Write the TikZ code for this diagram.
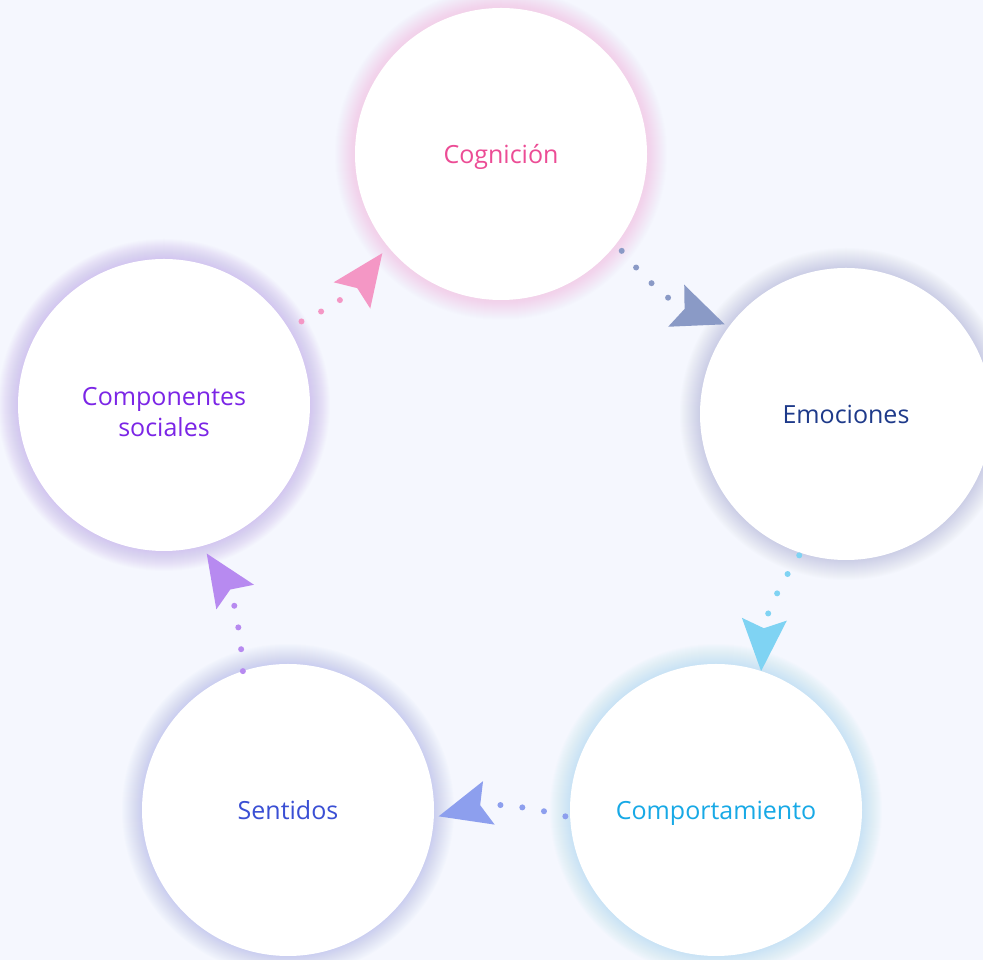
\documentclass[tikz,border=0pt]{standalone}
\usepackage{fontspec}
\setmainfont{Open Sans}
\usetikzlibrary{arrows.meta}

\definecolor{bg}{HTML}{F5F7FE}
\definecolor{cogtext}{HTML}{EC4C95}
\definecolor{cogline}{HTML}{F497C5}
\definecolor{coghalo}{HTML}{F2A2CC}
\definecolor{emotext}{HTML}{1E3A8A}
\definecolor{emoline}{HTML}{8A9AC6}
\definecolor{emohalo}{HTML}{8E9CC4}
\definecolor{comptext}{HTML}{17A9E6}
\definecolor{compline}{HTML}{7FD3F3}
\definecolor{comphalo}{HTML}{86D4F5}
\definecolor{senttext}{HTML}{3A4FD4}
\definecolor{sentline}{HTML}{8D9FEE}
\definecolor{senthalo}{HTML}{8B9AF0}
\definecolor{soctext}{HTML}{7B25E6}
\definecolor{socline}{HTML}{B78AF0}
\definecolor{sochalo}{HTML}{A77BF0}

% soft coloured glow round a bubble
\newcommand{\halo}[2]{%
  \foreach \k [evaluate=\k as \rr using 146+\k] in {1,...,20}
    \fill[#2, fill opacity=0.02] (#1) circle (\rr pt);}

\begin{document}
\begin{tikzpicture}[x=1pt,y=1pt,
  bubble/.style={circle,fill=white,minimum size=292pt,inner sep=0pt,outer sep=0pt,
    align=center,text depth=0pt,font=\fontsize{25}{31}\selectfont},
  flow/.style={line width=6pt,line cap=round,dash pattern=on 0pt off 22pt,
    -{Stealth[length=52pt,width=45pt,inset=9pt,line width=0pt]},bend right=15}]

  \fill[bg] (0,0) rectangle (983,960);
  \useasboundingbox (0,0) rectangle (983,960);

  \coordinate (pcog) at (501,806);
  \coordinate (pemo) at (846,546);
  \coordinate (pcomp) at (716,150);
  \coordinate (psent) at (288,150);
  \coordinate (psoc) at (164,555);

  \halo{pcog}{coghalo}
  \halo{pemo}{emohalo}
  \halo{pcomp}{comphalo}
  \halo{psent}{senthalo}
  \halo{psoc}{sochalo}

  \node[bubble,text=cogtext] (cog) at (pcog) {Cognición};
  \node[bubble,text=emotext] (emo) at (pemo) {Emociones};
  \node[bubble,text=comptext] (comp) at (pcomp) {Comportamiento};
  \node[bubble,text=senttext] (sent) at (psent) {Sentidos};
  \node[bubble,text=soctext,text height=63pt] (soc) at (psoc) {Componentes\\sociales};

  \draw[flow,cogline,shorten <=15pt,shorten >=9pt] (soc.32) to (cog.219);
  \draw[flow,emoline,shorten <=9pt,shorten >=5pt] (cog.-38) to (emo.143);
  \draw[flow,compline,shorten <=3pt,shorten >=0pt] (emo.-108) to (comp.72);
  \draw[flow,sentline,shorten <=5pt,shorten >=5pt] (comp.183) to (sent.-3);
  \draw[flow,socline,shorten <=0pt,shorten >=9pt] (sent.108) to (soc.-75);
\end{tikzpicture}
\end{document}
